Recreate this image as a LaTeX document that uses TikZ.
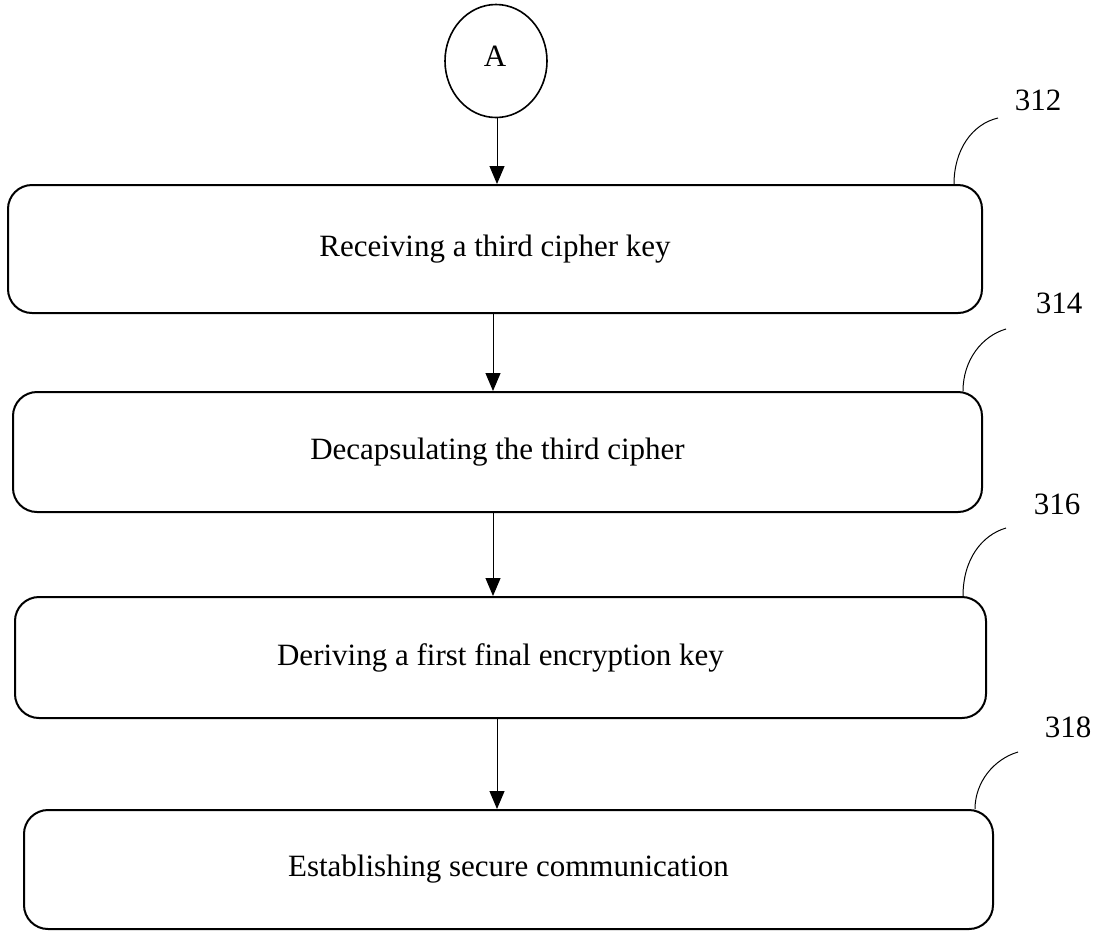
\documentclass[tikz,border=0pt]{standalone}
\usepackage{fontspec}
\setmainfont{Liberation Serif}
\usetikzlibrary{arrows.meta,shapes.geometric}
\begin{document}
\begin{tikzpicture}[x=1pt,y=-1pt,
  stepbox/.style={draw=black, line width=2pt, rounded corners=24pt, inner sep=0pt, font=\fontsize{31}{37}\selectfont},
  conn/.style={draw=black, line width=1pt, -{Triangle[width=15pt,length=18pt]}},
  leader/.style={draw=black, line width=1pt},
  reflabel/.style={font=\fontsize{31}{37}\selectfont, inner sep=0pt}]
\useasboundingbox (0,0) rectangle (1099,930);
\node[draw=black, line width=1.6pt, ellipse, minimum width=102pt, minimum height=113pt, inner sep=0pt] (A) at (496,61) {};
\node[font=\fontsize{31}{37}\selectfont, inner sep=0pt] (Atext) at (495,56) {A};
\node[stepbox, minimum width=974pt, minimum height=128pt] (b1) at (495,249) {\raisebox{3pt}{Receiving a third cipher key}};
\node[stepbox, minimum width=969pt, minimum height=120pt] (b2) at (497.5,452) {\raisebox{3pt}{Decapsulating the third cipher}};
\node[stepbox, minimum width=971pt, minimum height=121pt] (b3) at (500.5,657.5) {\raisebox{3pt}{Deriving a first final encryption key}};
\node[stepbox, minimum width=969pt, minimum height=119pt] (b4) at (508.5,869.5) {\raisebox{3pt}{Establishing secure communication}};
\draw[conn] (A.south -| 497,0) -- (b1.north -| 497,0);
\draw[conn] (b1.south -| 493,0) -- (b2.north -| 493,0);
\draw[conn] (b2.south -| 493,0) -- (b3.north -| 493,0);
\draw[conn] (b3.south -| 497,0) -- (b4.north -| 497,0);
\node[reflabel] (l1) at (1038,100) {312};
\node[reflabel] (l2) at (1059,303) {314};
\node[reflabel] (l3) at (1057,504) {316};
\node[reflabel] (l4) at (1068,727) {318};
\coordinate (e1) at (998,118);
\coordinate (e2) at (1006,329);
\coordinate (e3) at (1006,528);
\coordinate (e4) at (1018,752);
\draw[leader] (b1.north -| 954,0) .. controls (954,150) and (972,124) .. (e1);
\draw[leader] (b2.north -| 963,0) .. controls (963,360) and (982,336) .. (e2);
\draw[leader] (b3.north -| 963,0) .. controls (963,559) and (982,535) .. (e3);
\draw[leader] (b4.north -| 975,0) .. controls (975,782) and (994,759) .. (e4);
\end{tikzpicture}
\end{document}
